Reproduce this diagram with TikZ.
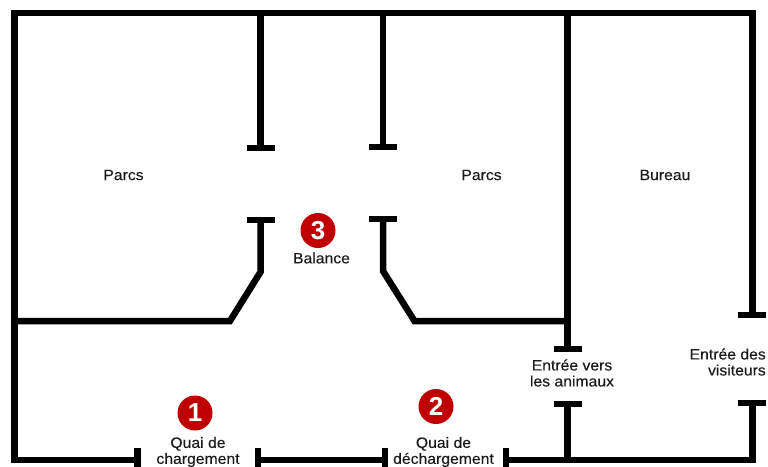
\documentclass[tikz,border=0pt]{standalone}
\usepackage{fontspec}
\setmainfont{Liberation Sans}
\newfontfamily\labelfont[FakeStretch=1.05,FakeBold=0.25]{Liberation Sans}
\usepackage{tikz}
\usetikzlibrary{arrows.meta,positioning,calc}

\definecolor{badgered}{HTML}{C00000}
\definecolor{labelgrey}{HTML}{1A1A1A}

\begin{document}
\begin{tikzpicture}[x=1pt,y=-1pt,
    wall/.style={line width=6.5pt,line cap=butt,line join=miter},
    roomlabel/.style={font=\labelfont\fontsize{15}{16}\selectfont,text=labelgrey,align=center,inner sep=0pt},
    badge/.style={circle,fill=badgered,text=white,minimum size=35pt,inner sep=0pt,font=\fontsize{26}{26}\selectfont\bfseries}]
  \useasboundingbox (0,0) rectangle (768,466);

  % outer walls
  \draw[wall] (137.5,460) -- (14.5,460) -- (14.5,13) -- (752.5,13) -- (752.5,315);
  \draw[wall] (258,460) -- (385,460);
  \draw[wall] (506,460) -- (752.5,460) -- (752.5,403);

  % inner walls
  \draw[wall] (260.5,13) -- (260.5,148);
  \draw[wall] (383,13) -- (383,147);
  \draw[wall] (567.5,13) -- (567.5,349);
  \draw[wall] (567.5,460) -- (567.5,404);
  \draw[wall] (14.5,321) -- (230,321) -- (260.5,272) -- (260.5,220);
  \draw[wall] (567.5,321) -- (414.5,321) -- (383,271) -- (383,219);

  % door ends
  \foreach \x/\y in {260.5/148,383/147,260.5/220,383/219,567.5/349,567.5/404,752/315,752/403}
    \draw[wall] (\x-14,\y) -- (\x+14,\y);
  \foreach \x in {137.5,258,385,506}
    \draw[wall] (\x,448) -- (\x,472);

  % rooms
  \node[roomlabel] (parcsleft) at (123.5,175) {Parcs};
  \node[roomlabel] (parcsright) at (481.5,175) {Parcs};
  \node[roomlabel] (bureau) at (665,175) {Bureau};
  \node[roomlabel] (animaux) at (572,373) {Entrée vers\\les animaux};
  \node[roomlabel,align=right,anchor=east] (visiteurs) at (766,362) {Entrée des\\visiteurs};

  % numbered spots
  \node[badge] (one) at (195,413) {1};
  \node[badge] (two) at (436,406.5) {2};
  \node[badge] (three) at (318,230.5) {3};
  \node[roomlabel] (chargement) at (198,452) {Quai de\\chargement};
  \node[roomlabel] (dechargement) at (443.5,452) {Quai de\\déchargement};
  \node[roomlabel] (balance) at (321.5,258) {Balance};
\end{tikzpicture}
\end{document}
